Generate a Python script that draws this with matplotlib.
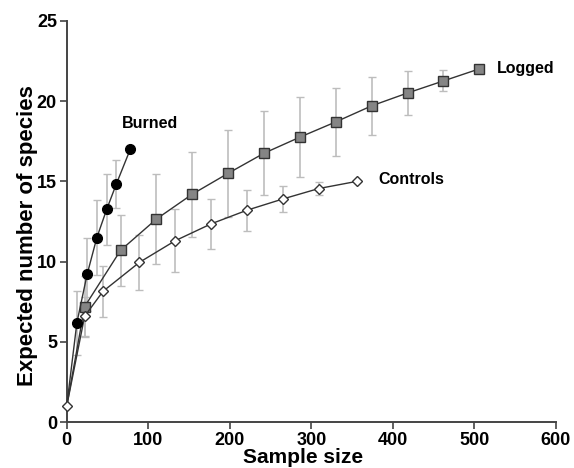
import numpy as np
import matplotlib
matplotlib.use("Agg")
import matplotlib.pyplot as plt

plt.rcParams['font.family'] = ['Liberation Sans', 'DejaVu Sans']

# Burned
burned_x = [0, 12.5, 25, 37, 49, 61, 78]
burned_y = [1, 6.2, 9.2, 11.5, 13.25, 14.85, 17.0]
burned_err = [0, 2.0, 2.3, 2.35, 2.2, 1.5, 0]

# Logged
logged_x = [0, 22, 66, 110, 154, 198, 242, 286, 330, 374, 418, 462, 506]
logged_y = [1, 7.2, 10.7, 12.65, 14.2, 15.5, 16.75, 17.75, 18.7, 19.7, 20.5, 21.25, 22.0]
logged_err = [0, 1.9, 2.2, 2.8, 2.65, 2.7, 2.6, 2.5, 2.1, 1.8, 1.35, 0.65, 0]

# Controls
controls_x = [0, 22, 44.5, 89, 133, 177, 221, 265, 309, 356]
controls_y = [1, 6.6, 8.15, 9.95, 11.3, 12.35, 13.2, 13.9, 14.55, 15.0]
controls_err = [0, 1.2, 1.6, 1.7, 1.95, 1.55, 1.28, 0.8, 0.4, 0]

line_col = '#333333'
err_col = '#bdbdbd'

fig = plt.figure(figsize=(5.74, 4.68), dpi=100)
ax = fig.add_axes([0.1162, 0.0977, 0.8524, 0.8581])

def draw(x, y, err, z, **kw):
    x = np.array(x); y = np.array(y); err = np.array(err)
    m = err > 0
    ax.errorbar(x[m], y[m], yerr=err[m], fmt='none', ecolor=err_col,
                elinewidth=1.2, capsize=3, capthick=1.0, zorder=1)
    # shared origin point is drawn only once (as the Controls diamond)
    ax.plot(x, y, color=line_col, lw=1.0, zorder=z, clip_on=False,
            markevery=slice(1, None), **kw)

draw(logged_x, logged_y, logged_err, 2, marker='s', ms=6.5, mfc='#858585', mec='#333333', mew=1.0)
draw(burned_x, burned_y, burned_err, 3, marker='o', ms=7, mfc='black', mec='black')
draw(controls_x, controls_y, controls_err, 2.5, marker='D', ms=5.5, mfc='white', mec='#333333', mew=1.0)
ax.plot(controls_x[0], controls_y[0], marker='D', ms=5.5, mfc='white', mec='#333333',
        mew=1.0, clip_on=False, zorder=4)

ax.text(68, 18.6, 'Burned', fontsize=11.5, fontweight='bold', va='center', ha='left')
ax.text(528, 22.05, 'Logged', fontsize=11.5, fontweight='bold', va='center', ha='left')
ax.text(382, 15.1, 'Controls', fontsize=11.5, fontweight='bold', va='center', ha='left')

ax.set_xlim(0, 600)
ax.set_ylim(0, 25)
ax.set_xticks(range(0, 601, 100))
ax.set_yticks(range(0, 26, 5))
for s in ['top', 'right']:
    ax.spines[s].set_visible(False)
for s in ['left', 'bottom']:
    ax.spines[s].set_color('#444444')
    ax.spines[s].set_linewidth(1.4)
ax.tick_params(direction='out', length=5, width=1.2, color='#444444',
               labelsize=13, pad=2)
for lbl in ax.get_xticklabels() + ax.get_yticklabels():
    lbl.set_fontweight('bold')

ax.set_xlabel('Sample size', fontsize=15, fontweight='bold', va='center')
ax.set_ylabel('Expected number of species', fontsize=16, fontweight='bold', va='center')
ax.xaxis.set_label_coords(0.4836, -0.088)
ax.yaxis.set_label_coords(-0.08, 0.466)

fig.savefig('out.png', dpi=100)
